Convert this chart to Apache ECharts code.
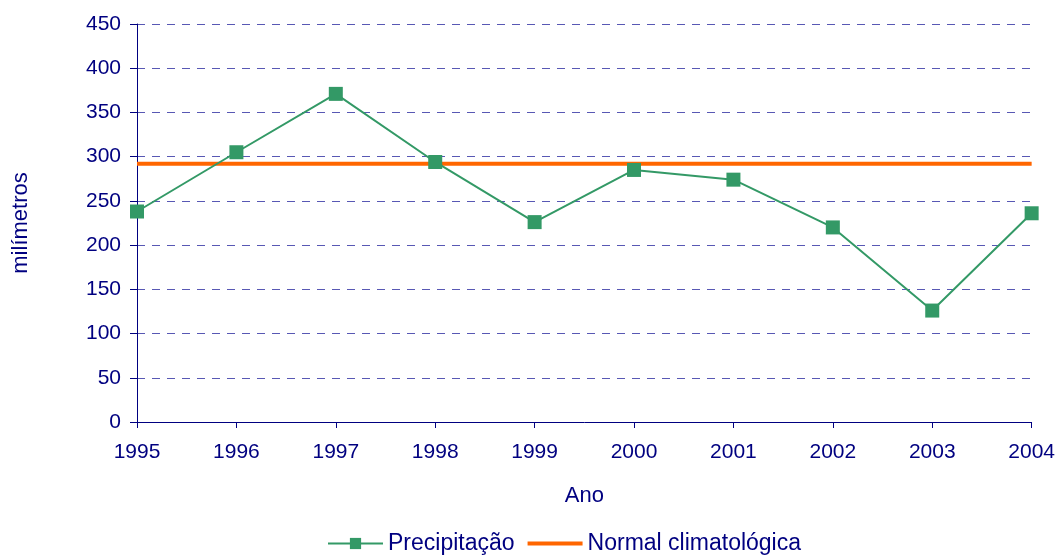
<!DOCTYPE html>
<html>
<head>
<meta charset="utf-8">
<script src="https://cdn.jsdelivr.net/npm/echarts@6/dist/echarts.min.js"></script>
<style>
  html, body { margin: 0; padding: 0; background: #fff; }
  #chart { width: 1058px; height: 556px; }
</style>
</head>
<body>
<div id="chart"></div>
<script>
// anos
const years = ['1995', '1996', '1997', '1998', '1999', '2000', '2001', '2002', '2003', '2004']
// precipitação anual (mm)
const precipitacao = [238, 305, 371, 294, 226, 285, 274, 220, 126, 236]
// normal climatológica (mm)
const normal = [292, 292, 292, 292, 292, 292, 292, 292, 292, 292]

const navy = '#000080'
const font = 'Liberation Sans, Arial, sans-serif'

const chart = echarts.init(document.getElementById('chart'))
chart.setOption({
  animation: false,
  textStyle: { fontFamily: font },
  grid: { left: 137, right: 25, top: 24, bottom: 134 },
  legend: {
    top: 532,
    left: 327,
    itemWidth: 55,
    itemHeight: 14,
    itemGap: 11,
    padding: 0,
    textStyle: { color: navy, fontSize: 23, fontFamily: font },
    data: [
      { name: 'Precipitação' },
      // só a linha, sem marcador
      {
        name: 'Normal climatológica',
        itemStyle: { color: 'rgba(0,0,0,0)', borderWidth: 0 },
        lineStyle: { width: 4 }
      }
    ]
  },
  xAxis: {
    type: 'category',
    data: years,
    boundaryGap: false,
    name: 'Ano',
    nameLocation: 'middle',
    nameGap: 63,
    nameTextStyle: { color: navy, fontSize: 22 },
    axisLine: { lineStyle: { color: navy, width: 1 } },
    axisTick: { show: true, length: 6, lineStyle: { color: navy } },
    axisLabel: { color: navy, fontSize: 21, margin: 20 }
  },
  yAxis: {
    type: 'value',
    min: 0,
    max: 450,
    interval: 50,
    name: 'milímetros',
    nameLocation: 'middle',
    nameGap: 105,
    nameTextStyle: { color: navy, fontSize: 22 },
    axisLine: { show: true, lineStyle: { color: navy, width: 1 } },
    axisTick: { show: true, length: 7, lineStyle: { color: navy } },
    axisLabel: { color: navy, fontSize: 21, margin: 16 },
    splitLine: { lineStyle: { color: '#5858b4', type: [8, 7], width: 1 } }
  },
  series: [
    {
      name: 'Precipitação',
      type: 'line',
      data: precipitacao,
      symbol: 'rect',
      symbolSize: 14,
      z: 3,
      itemStyle: { color: '#339966' },
      lineStyle: { color: '#339966', width: 2 }
    },
    {
      name: 'Normal climatológica',
      type: 'line',
      data: normal,
      symbol: 'none',
      z: 2,
      itemStyle: { color: '#ff6600' },
      lineStyle: { color: '#ff6600', width: 4 }
    }
  ]
})
</script>
</body>
</html>
